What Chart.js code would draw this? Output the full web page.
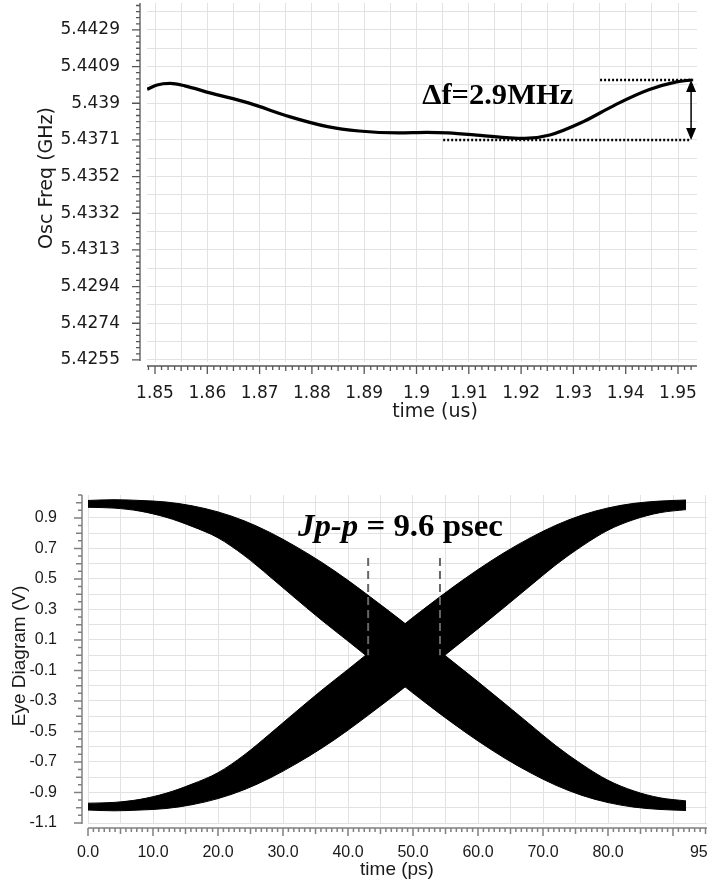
<!DOCTYPE html>
<html>
<head>
<meta charset="utf-8">
<script src="https://cdn.jsdelivr.net/npm/chart.js@4.4.0/dist/chart.umd.min.js"></script>
<style>
  html, body { margin: 0; padding: 0; background: #fff; overflow: hidden; }
  #wrapFreq { position: absolute; left: 0; top: 0; width: 707px; height: 440px; }
  #wrapEye { position: absolute; left: 0; top: 440px; width: 707px; height: 444px; overflow: hidden; }
</style>
</head>
<body>
<div id="wrapFreq"><canvas id="freqChart" width="707" height="440"></canvas></div>
<div id="wrapEye"><canvas id="eyeChart" width="730" height="444"></canvas></div>
<script>
// --- datos: frecuencia del oscilador (grafico de arriba) ---
const freqTime = [1.8485, 1.8504, 1.8529, 1.8557, 1.8605, 1.868, 1.8757, 1.883, 1.889, 1.8966, 1.902,
                  1.906, 1.9122, 1.9178, 1.9207, 1.9255, 1.9318, 1.938, 1.9444, 1.9497, 1.9527];
const freqGHz = [5.43977, 5.44000, 5.44008, 5.43995, 5.43958, 5.43904, 5.43833, 5.43780, 5.43757, 5.43747, 5.43750,
                 5.43747, 5.43734, 5.43721, 5.43718, 5.43736, 5.43805, 5.43895, 5.43974, 5.44016, 5.44026];
const freqTickVals = [5.4255, 5.427433, 5.429367, 5.4313, 5.433233, 5.435167, 5.4371, 5.439033, 5.440967, 5.4429];
const freqTickLabels = ['5.4255', '5.4274', '5.4294', '5.4313', '5.4332', '5.4352', '5.4371', '5.439', '5.4409', '5.4429'];
const timeTickVals = [1.85, 1.86, 1.87, 1.88, 1.89, 1.9, 1.91, 1.92, 1.93, 1.94, 1.95];
const timeTickLabels = ['1.85', '1.86', '1.87', '1.88', '1.89', '1.9', '1.91', '1.92', '1.93', '1.94', '1.95'];
const deltaLabel = 'Δf=2.9MHz';

// --- datos: diagrama de ojo (grafico de abajo) ---
const eyeTime = [0, 4, 8, 12, 16, 20, 24, 28, 32, 36, 40, 44, 48, 52, 56, 60, 64, 68, 72, 76, 80, 84, 88, 92];
const fallHigh = [1.015, 1.02, 1.015, 1.005, 0.98, 0.94, 0.882, 0.805, 0.712, 0.608, 0.491, 0.364,
                  0.234, 0.099, -0.038, -0.174, -0.313, -0.454, -0.594, -0.716, -0.82, -0.89, -0.935, -0.955];
const fallLow = [0.97, 0.965, 0.945, 0.905, 0.845, 0.77, 0.655, 0.515, 0.37, 0.228, 0.093, -0.044,
                 -0.181, -0.314, -0.442, -0.562, -0.672, -0.769, -0.853, -0.919, -0.966, -0.996, -1.011, -1.018];
const riseHigh = [-0.97, -0.965, -0.945, -0.905, -0.845, -0.77, -0.655, -0.515, -0.37, -0.228, -0.093, 0.044,
                  0.181, 0.314, 0.442, 0.562, 0.672, 0.769, 0.853, 0.919, 0.966, 0.996, 1.011, 1.018];
const riseLow = [-1.015, -1.02, -1.015, -1.005, -0.98, -0.94, -0.882, -0.805, -0.712, -0.608, -0.491, -0.364,
                 -0.234, -0.099, 0.038, 0.174, 0.313, 0.454, 0.594, 0.716, 0.82, 0.89, 0.935, 0.955];
const eyeVoltTickVals = [0.9, 0.7, 0.5, 0.3, 0.1, -0.1, -0.3, -0.5, -0.7, -0.9, -1.1];
const eyeVoltTickLabels = ['0.9', '0.7', '0.5', '0.3', '0.1', '-0.1', '-0.3', '-0.5', '-0.7', '-0.9', '-1.1'];
const eyeTimeTickVals = [0, 10, 20, 30, 40, 50, 60, 70, 80, 95];
const eyeTimeTickLabels = ['0.0', '10.0', '20.0', '30.0', '40.0', '50.0', '60.0', '70.0', '80.0', '95.0'];
const jitterEdges = [43.1, 54.15];
const jitterLabel = ['Jp-p', ' = 9.6 psec'];

const pts = (xs, ys) => xs.map((x, i) => ({ x, y: ys[i] }));
const labelFrom = (vals, labels) => v => {
    const i = vals.indexOf(v);
    return i < 0 ? '' : labels[i];
};
function fixedSize(size, horizontal) {
    return scale => {
        if (horizontal) scale.height = size; else scale.width = size;
        scale.paddingTop = scale.paddingBottom = scale.paddingLeft = scale.paddingRight = 0;
    };
}

// marcas de eje (mayores, medias y menores)
function drawTicks(ctx, scale, origin, step, from, to, every, base, lens, vertical) {
    for (let i = from; i <= to; i++) {
        const p = scale.getPixelForValue(origin + i * step);
        const m = k => ((i % k) + k) % k === 0;
        const len = m(every[0]) ? lens[0] : (m(every[1]) ? lens[1] : lens[2]);
        if (vertical) { ctx.moveTo(base, p); ctx.lineTo(base - len, p); }
        else { ctx.moveTo(p, base); ctx.lineTo(p, base + len); }
    }
}
function fitText(ctx, text, x, y, width) {
    const w = ctx.measureText(text).width;
    ctx.save();
    ctx.translate(x, y);
    ctx.scale(width / w, 1);
    ctx.fillText(text, 0, 0);
    ctx.restore();
}
function axisTitle(ctx, text, x, y, font, rotated) {
    ctx.save();
    ctx.font = font;
    ctx.fillStyle = '#1a1a1a';
    ctx.textAlign = 'center';
    ctx.textBaseline = 'middle';
    ctx.translate(x, y);
    if (rotated) ctx.rotate(-Math.PI / 2);
    ctx.fillText(text, 0, 0);
    ctx.restore();
}

// ----- grafico de frecuencia -----
const freqYGrid = freqTickVals.flatMap((v, i) => i < freqTickVals.length - 1 ? [v, (v + freqTickVals[i + 1]) / 2] : [v, v + 0.0009667]);
const freqXGrid = timeTickVals.flatMap((v, i) => i < timeTickVals.length - 1 ? [v, v + 0.005] : [v]);

const freqDecor = {
    id: 'freqDecor',
    afterDraw(chart) {
        const { ctx, chartArea: a, scales: { x, y } } = chart;
        ctx.save();
        ctx.strokeStyle = '#555';
        ctx.lineWidth = 1.3;
        ctx.beginPath();
        const ax = a.left - 7, ay = a.bottom + 4;
        ctx.moveTo(ax, a.top); ctx.lineTo(ax, a.bottom - 1);
        ctx.moveTo(a.left, ay); ctx.lineTo(a.right, ay);
        drawTicks(ctx, y, 5.4255, 0.0174 / 54, 0, 58, [6, 3], ax, [8, 4, 4], true);
        drawTicks(ctx, x, 1.85, 0.00125, -1, 82, [8, 4], ay, [8, 5, 4], false);
        ctx.stroke();

        // anotacion delta f
        const fMax = Math.max(...freqGHz), fMin = Math.min(...freqGHz);
        const yTop = y.getPixelForValue(fMax), yBot = y.getPixelForValue(fMin) + 1.5;
        const xr = x.getPixelForValue(1.9525);
        ctx.strokeStyle = '#000';
        ctx.lineWidth = 2.5;
        ctx.setLineDash([2, 2]);
        ctx.beginPath();
        ctx.moveTo(x.getPixelForValue(1.9351), yTop); ctx.lineTo(x.getPixelForValue(1.9529), yTop);
        ctx.moveTo(x.getPixelForValue(1.9051), yBot); ctx.lineTo(x.getPixelForValue(1.9523), yBot);
        ctx.stroke();
        ctx.setLineDash([]);
        ctx.lineWidth = 1.5;
        ctx.beginPath();
        ctx.moveTo(xr, yTop + 10); ctx.lineTo(xr, yBot - 10);
        ctx.stroke();
        ctx.fillStyle = '#000';
        ctx.beginPath();
        ctx.moveTo(xr, yTop); ctx.lineTo(xr - 5, yTop + 12); ctx.lineTo(xr + 5, yTop + 12); ctx.closePath();
        ctx.moveTo(xr, yBot); ctx.lineTo(xr - 5, yBot - 12); ctx.lineTo(xr + 5, yBot - 12); ctx.closePath();
        ctx.fill();
        ctx.font = 'bold 29px "Liberation Serif"';
        ctx.textBaseline = 'alphabetic';
        fitText(ctx, deltaLabel, x.getPixelForValue(1.9011), y.getPixelForValue(5.43897), 151);
        ctx.restore();

        axisTitle(ctx, 'Osc Freq (GHz)', 47, 178, '19px "DejaVu Sans"', true);
        axisTitle(ctx, 'time (us)', 435, 412, '19px "DejaVu Sans"', false);
    }
};

new Chart(document.getElementById('freqChart'), {
    type: 'line',
    data: {
        datasets: [{
            data: pts(freqTime, freqGHz),
            borderColor: '#000',
            borderWidth: 3.2,
            pointRadius: 0,
            cubicInterpolationMode: 'monotone',
            fill: false
        }]
    },
    options: {
        responsive: false,
        animation: false,
        events: [],
        layout: { padding: { top: 3, right: 10, left: 0, bottom: 0 } },
        plugins: { legend: { display: false }, tooltip: { enabled: false } },
        scales: {
            x: {
                type: 'linear', min: 1.84847, max: 1.95363,
                afterBuildTicks: s => { s.ticks = freqXGrid.map(v => ({ value: v })); },
                afterFit: fixedSize(78, true),
                grid: { color: '#e2e2e2', drawTicks: false },
                border: { display: false },
                ticks: {
                    padding: 21, autoSkip: false, maxRotation: 0, color: '#1a1a1a',
                    font: { family: 'DejaVu Sans', size: 17 },
                    callback: labelFrom(timeTickVals, timeTickLabels)
                }
            },
            y: {
                type: 'linear', min: 5.42539, max: 5.44432,
                afterBuildTicks: s => { s.ticks = freqYGrid.map(v => ({ value: v })); },
                afterFit: fixedSize(147, false),
                grid: { color: '#e2e2e2', drawTicks: false },
                border: { display: false },
                ticks: {
                    padding: 27, autoSkip: false, color: '#1a1a1a',
                    font: { family: 'DejaVu Sans', size: 17 },
                    callback: labelFrom(freqTickVals, freqTickLabels)
                }
            }
        }
    },
    plugins: [freqDecor]
});

// ----- diagrama de ojo -----
const eyeXGrid = [];
for (let v = 0; v <= 95; v += 5) eyeXGrid.push(v);
const eyeYGrid = [];
for (let k = -11; k <= 10; k++) eyeYGrid.push(Math.round(k) / 10);

const eyeDecor = {
    id: 'eyeDecor',
    afterDraw(chart) {
        const { ctx, chartArea: a, scales: { x, y } } = chart;
        ctx.save();
        ctx.strokeStyle = '#808080';
        ctx.lineWidth = 1.5;
        ctx.beginPath();
        const ax = a.left - 6, ay = a.bottom + 5;
        ctx.moveTo(ax, a.top); ctx.lineTo(ax, a.bottom + 1);
        ctx.moveTo(a.left, ay); ctx.lineTo(chart.width, ay);
        drawTicks(ctx, y, -1.1, 0.05, 0, 43, [4, 2], ax, [8, 6, 4], true);
        drawTicks(ctx, x, 0, 5 / 6, 0, 116, [12, 6], ay, [8, 6, 4], false);
        ctx.stroke();

        // lineas de jitter
        ctx.strokeStyle = '#666';
        ctx.lineWidth = 2;
        ctx.setLineDash([8, 5]);
        ctx.beginPath();
        jitterEdges.forEach(t => {
            const px = x.getPixelForValue(t);
            ctx.moveTo(px, y.getPixelForValue(0.638));
            ctx.lineTo(px, y.getPixelForValue(0.0));
        });
        ctx.stroke();
        ctx.setLineDash([]);

        // texto Jp-p
        ctx.fillStyle = '#000';
        ctx.textBaseline = 'alphabetic';
        const f1 = 'italic bold 31px "Liberation Serif"', f2 = 'bold 31px "Liberation Serif"';
        ctx.font = f1;
        const w1 = ctx.measureText(jitterLabel[0]).width;
        ctx.font = f2;
        const w2 = ctx.measureText(jitterLabel[1]).width;
        const sx = 205 / (w1 + w2);
        const tx = x.getPixelForValue(32.3), ty = y.getPixelForValue(0.785);
        ctx.save();
        ctx.translate(tx, ty);
        ctx.scale(sx, 1);
        ctx.font = f1;
        ctx.fillText(jitterLabel[0], 0, 0);
        ctx.font = f2;
        ctx.fillText(jitterLabel[1], w1, 0);
        ctx.restore();
        ctx.restore();

        axisTitle(ctx, 'Eye Diagram (V)', 20, 216, '19px "Liberation Sans"', true);
        axisTitle(ctx, 'time (ps)', 397, 430, '19px "Liberation Sans"', false);
    }
};

const band = (ys, fill) => ({
    data: pts(eyeTime, ys),
    borderColor: '#000',
    backgroundColor: '#000',
    borderWidth: 1,
    pointRadius: 0,
    cubicInterpolationMode: 'monotone',
    fill
});

new Chart(document.getElementById('eyeChart'), {
    type: 'line',
    data: {
        datasets: [band(fallHigh, '+1'), band(fallLow, false), band(riseHigh, '+1'), band(riseLow, false)]
    },
    options: {
        responsive: false,
        animation: false,
        events: [],
        layout: { padding: { top: 55, right: 11.5, left: 0, bottom: 0 } },
        plugins: { legend: { display: false }, tooltip: { enabled: false } },
        scales: {
            x: {
                type: 'linear', min: 0, max: 97,
                afterBuildTicks: s => { s.ticks = eyeXGrid.map(v => ({ value: v })); },
                afterFit: fixedSize(61, true),
                grid: { color: '#e2e2e2', drawTicks: false },
                border: { display: false },
                ticks: {
                    padding: 20, autoSkip: false, maxRotation: 0, color: '#1a1a1a',
                    font: { family: 'Liberation Sans', size: 16 },
                    callback: labelFrom(eyeTimeTickVals, eyeTimeTickLabels)
                }
            },
            y: {
                type: 'linear', min: -1.1, max: 1.0508,
                afterBuildTicks: s => { s.ticks = eyeYGrid.map(v => ({ value: v })); },
                afterFit: fixedSize(88, false),
                grid: { color: '#e2e2e2', drawTicks: false },
                border: { display: false },
                ticks: {
                    padding: 31, autoSkip: false, color: '#1a1a1a',
                    font: { family: 'Liberation Sans', size: 16 },
                    callback: labelFrom(eyeVoltTickVals, eyeVoltTickLabels)
                }
            }
        }
    },
    plugins: [eyeDecor]
});
</script>
</body>
</html>
